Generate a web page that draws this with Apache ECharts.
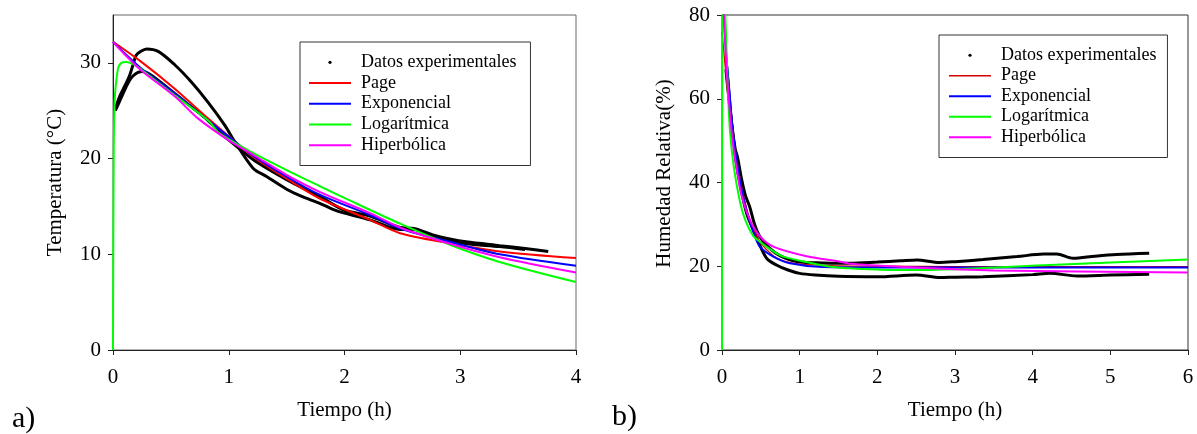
<!DOCTYPE html>
<html><head><meta charset="utf-8">
<script src="https://cdn.jsdelivr.net/npm/echarts@6/dist/echarts.min.js"></script>
<style>html,body{margin:0;padding:0;background:#fff}#c{width:1197px;height:434px}</style>
</head><body><div id="c"></div>
<script>
// ---------- Panel a) Temperatura ----------
const tempTicksX = [0, 1, 2, 3, 4];
const tempTicksY = [0, 10, 20, 30];
const tempExpA = [[0.02,25.2],[0.058,26.5],[0.086,27.2],[0.115,27.9],[0.144,28.7],[0.173,29.8],[0.2,30.8],[0.24,31.2],[0.29,31.45],[0.39,31.2],[0.533,29.8],[0.677,28.0],[0.82,25.9],[0.965,23.5],[1.05,21.8],[1.21,19.0],[1.33,18.1],[1.5,16.8],[1.62,16.1],[1.79,15.3],[1.9,14.7],[2.0,14.3],[2.22,13.6],[2.48,12.6],[2.6,12.6],[2.77,11.8],[2.91,11.4],[3.05,11.1],[3.34,10.8],[3.56,10.5]];
const tempExpB = [[0.02,25.0],[0.05,25.8],[0.08,26.6],[0.11,27.4],[0.14,28.1],[0.17,28.6],[0.216,29.0],[0.26,29.1],[0.331,28.7],[0.533,26.8],[0.677,25.4],[0.82,24.0],[0.924,22.7],[0.965,22.3],[1.21,19.9],[1.5,17.8],[1.79,16.0],[2.0,14.6],[2.22,14.0],[2.48,12.8],[2.6,12.7],[2.77,12.0],[2.91,11.6],[3.05,11.3],[3.34,10.9],[3.56,10.6],[3.76,10.3]];
const tempPage = [[0,32.2],[0.245,30.1],[0.533,27.3],[0.82,24.2],[1.05,21.8],[1.21,20.2],[1.5,17.9],[1.79,15.8],[2.22,13.6],[2.48,12.2],[2.91,11.15],[3.34,10.3],[4,9.6]];
const tempExpo = [[0,32.2],[0.1,31.0],[0.245,29.4],[0.533,26.8],[0.82,24.0],[1.05,21.8],[1.21,20.3],[1.5,18.1],[1.79,16.2],[2.22,14.1],[2.48,12.7],[2.91,11.3],[3.34,10.0],[4,8.8]];
const tempLog = [[0,0],[0.005,18],[0.014,25.9],[0.043,29.4],[0.072,30.0],[0.115,30.1],[0.187,29.8],[0.245,29.3],[0.533,26.6],[0.82,24.0],[0.924,22.6],[1.21,20.6],[1.5,18.8],[1.79,17.1],[2.05,15.6],[2.48,13.2],[2.91,11.0],[3.34,9.2],[4,7.1]];
const tempHip = [[0,32.2],[0.1,30.9],[0.245,29.2],[0.533,26.5],[0.734,24.2],[1.0,21.9],[1.21,20.4],[1.5,18.3],[1.79,16.5],[2.22,14.3],[2.48,12.8],[2.91,11.1],[3.34,9.7],[4,8.1]];

// ---------- Panel b) Humedad Relativa ----------
const humTicksX = [0, 1, 2, 3, 4, 5, 6];
const humTicksY = [0, 20, 40, 60, 80];
const humExpA = [[0.05,70],[0.082,63],[0.125,54],[0.17,48],[0.2,46],[0.25,41],[0.3,37],[0.36,34],[0.42,30],[0.49,27],[0.6,24.5],[0.75,22.5],[1.0,21.0],[1.3,20.8],[1.65,20.7],[2.0,21.0],[2.3,21.3],[2.51,21.5],[2.8,20.9],[3.0,21.1],[3.36,21.6],[3.8,22.3],[4.14,22.9],[4.31,22.9],[4.52,21.9],[4.8,22.4],[5.08,22.8],[5.5,23.1]];
const humExpB = [[0.05,67],[0.1,58],[0.15,50],[0.19,44],[0.232,39.8],[0.275,35.8],[0.318,32.6],[0.36,30.5],[0.403,28.7],[0.5,24.5],[0.58,21.8],[0.7,20.3],[0.85,19.1],[1.0,18.3],[1.2,17.9],[1.5,17.6],[2.0,17.5],[2.5,17.9],[2.81,17.3],[3.0,17.4],[3.36,17.5],[4.0,18.0],[4.22,18.3],[4.57,17.7],[5.0,17.9],[5.5,18.1]];
const humPage = [[0,76],[0.05,66],[0.1,57],[0.15,50],[0.2,44],[0.3,35],[0.4,29],[0.5,25.5],[0.66,22.5],[0.8,21.2],[1.0,20.5],[1.5,20.1],[2.0,20.0],[3.0,19.9],[6.0,19.9]];
const humExpo = [[0,88],[0.03,78],[0.06,69],[0.094,62],[0.137,52.5],[0.19,45],[0.25,38.5],[0.32,33],[0.4,28.3],[0.49,24.6],[0.66,22.3],[0.875,20.7],[1.3,19.8],[2.0,19.7],[6.0,19.7]];
const humLog = [[0,0],[0.01,92],[0.03,85],[0.045,79],[0.07,65],[0.1,53],[0.15,44],[0.23,35.5],[0.3,31],[0.4,27.3],[0.49,25.8],[0.66,23.6],[0.79,22.3],[1.09,21.0],[1.43,19.8],[1.73,19.4],[2.29,19.1],[3.0,19.3],[4.22,20.3],[5.0,20.9],[6.0,21.6]];
const humHip = [[0,90],[0.05,70],[0.1,57],[0.15,48],[0.2,42],[0.25,37],[0.36,31],[0.49,27.1],[0.66,24.7],[1.09,22.4],[1.52,21.1],[1.65,20.6],[2.29,19.9],[3.5,19.0],[6.0,18.5]];

const legendNames = ['Datos experimentales', 'Page', 'Exponencial', 'Logarítmica', 'Hiperbólica'];
const colors = { exp: '#000000', page: '#ff0000', pageB: '#d40000', expo: '#0000ff', log: '#00ff00', hip: '#ff00ff' };

const FONT = 'Liberation Serif';
const chart = echarts.init(document.getElementById('c'), null, { renderer: 'canvas' });

function xAxis(gi, ticks) {
  return {
    gridIndex: gi, type: 'value', min: ticks[0], max: ticks[ticks.length - 1], interval: ticks[1] - ticks[0],
    name: 'Tiempo (h)', nameLocation: 'middle', nameGap: 50,
    nameTextStyle: { fontFamily: FONT, fontSize: 21, color: '#000' },
    axisLine: { show: true, onZero: false, lineStyle: { color: '#222', width: 1 } },
    axisTick: { show: true, inside: false, length: 5, lineStyle: { color: '#222' } },
    axisLabel: { fontFamily: FONT, fontSize: 21, color: '#000', margin: 17 },
    splitLine: { show: false }
  };
}
function yAxis(gi, ticks, name, yMax, gap, pad) {
  return {
    gridIndex: gi, type: 'value', min: ticks[0], max: yMax, interval: ticks[1] - ticks[0],
    name: name, nameLocation: 'middle', nameGap: gap, nameRotate: 90,
    nameTextStyle: { fontFamily: FONT, fontSize: 21, color: '#000', padding: pad },
    axisLine: { show: true, onZero: false, lineStyle: { color: '#222', width: 1 } },
    axisTick: { show: true, inside: false, length: 5, lineStyle: { color: '#222' }, customValues: ticks },
    axisLabel: { fontFamily: FONT, fontSize: 21, color: '#000', margin: 12, customValues: ticks,
      formatter: v => (ticks.indexOf(v) >= 0 ? String(v) : '') },
    splitLine: { show: false }
  };
}
function lineSeries(name, data, gi, color, width, z) {
  return {
    name: name, type: 'line', xAxisIndex: gi, yAxisIndex: gi, data: data,
    symbol: 'none', smooth: 0.3, clip: true, z: z,
    lineStyle: { color: color, width: width }, itemStyle: { color: color },
    emphasis: { disabled: true }
  };
}
function legendData(pageColor, pageWidth) {
  return [
    { name: legendNames[0], lineStyle: { opacity: 0 }, itemStyle: { color: '#000', opacity: 1 } },
    { name: legendNames[1], lineStyle: { color: pageColor, width: pageWidth }, itemStyle: { opacity: 0 } },
    { name: legendNames[2], lineStyle: { color: colors.expo, width: 2 }, itemStyle: { opacity: 0 } },
    { name: legendNames[3], lineStyle: { color: colors.log, width: 2 }, itemStyle: { opacity: 0 } },
    { name: legendNames[4], lineStyle: { color: colors.hip, width: 2 }, itemStyle: { opacity: 0 } }
  ];
}
function legend(left, top, lh, pad, data) {
  return {
    left: left, top: top, orient: 'vertical', itemWidth: 42, itemHeight: 4, itemGap: 0,
    padding: pad, borderColor: '#333', borderWidth: 1, backgroundColor: '#fff',
    selectedMode: false,
    textStyle: { fontFamily: FONT, fontSize: 18, color: '#000', lineHeight: lh, padding: [0, 0, 0, 5] },
    data: data
  };
}

const option = {
  animation: false,
  backgroundColor: '#fff',
  grid: [
    { left: 113, top: 15, width: 463, height: 335, show: true, borderColor: '#666', borderWidth: 1, backgroundColor: 'transparent' },
    { left: 722, top: 15, width: 466, height: 335, show: true, borderColor: '#333', borderWidth: 1, backgroundColor: 'transparent' }
  ],
  xAxis: [xAxis(0, tempTicksX), xAxis(1, humTicksX)],
  yAxis: [
    yAxis(0, tempTicksY, 'Temperatura (°C)', 35, 47, [0, 0, 0, 0]),
    yAxis(1, humTicksY, 'Humedad Relativa(%)', 80, 47, [0, 0, 0, 18])
  ],
  legend: [
    legend(300, 42, 20.7, [10, 14, 10, 8], legendData(colors.page, 2)),
    legend(939, 35, 20.5, [10, 11, 10, 9], legendData(colors.pageB, 1.3))
  ],
  graphic: [
    { type: 'text', left: 12, top: 404, style: { text: 'a)', font: '30px "Liberation Serif"', fill: '#000' } },
    { type: 'text', left: 612, top: 402, style: { text: 'b)', font: '30px "Liberation Serif"', fill: '#000' } }
  ],
  series: [
    lineSeries(legendNames[0], tempExpA, 0, colors.exp, 3, 1),
    lineSeries(legendNames[0], tempExpB, 0, colors.exp, 3, 1),
    lineSeries(legendNames[1], tempPage, 0, colors.page, 2, 3),
    lineSeries(legendNames[2], tempExpo, 0, colors.expo, 2, 4),
    lineSeries(legendNames[3], tempLog, 0, colors.log, 2, 5),
    lineSeries(legendNames[4], tempHip, 0, colors.hip, 2, 6),
    lineSeries(legendNames[0], humExpA, 1, colors.exp, 3, 1),
    lineSeries(legendNames[0], humExpB, 1, colors.exp, 3, 1),
    lineSeries(legendNames[1], humPage, 1, colors.pageB, 1.3, 3),
    lineSeries(legendNames[2], humExpo, 1, colors.expo, 2, 4),
    lineSeries(legendNames[3], humLog, 1, colors.log, 2, 5),
    lineSeries(legendNames[4], humHip, 1, colors.hip, 2, 6)
  ]
};
chart.setOption(option);
</script></body></html>
